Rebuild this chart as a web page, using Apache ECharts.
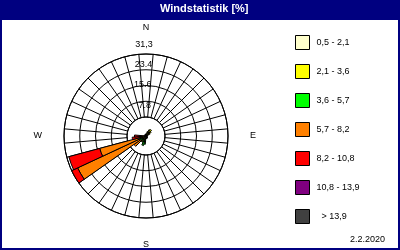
<!DOCTYPE html>
<html><head><meta charset="utf-8">
<script src="https://cdn.jsdelivr.net/npm/echarts@6/dist/echarts.min.js"></script>
<style>
html,body{margin:0;padding:0;background:#fff;}
#c{position:absolute;left:0;top:0;width:400px;height:250px;}
#b{position:absolute;left:0;top:0;width:400px;height:250px;box-sizing:border-box;border:2px solid #000080;pointer-events:none;}
</style></head><body>
<div id="c"></div><div id="b"></div>
<script>
// Directions (compass degrees, 10° sectors)
const directions = Array.from({length:36},(_,i)=>String(i*10));
const compassLabels = {0:'N',9:'E',18:'S',27:'W'};
const ringLabels = ['7.8','15.6','23.4','31,3'];
const radiusMax = 31.3;
const seriesNames = ['0,5 - 2,1','2,1 - 3,6','3,6 - 5,7','5,7 - 8,2','8,2 - 10,8','10,8 - 13,9','> 13,9'];
const seriesColors = ['#FFFFCC','#FFFF00','#00FF00','#FF8000','#FF0000','#800080','#404040'];
// values per direction (index = direction/10), percent
const s1 = [0.8,0.8,1.0,1.2,1.2,1.0,0.8,0.6,0.5,0.5,0.5,0.5,0.6,0.6,0.8,0.8,1.0,1.0,1.0,1.2,1.2,1.2,1.0,1.0,1.2,1.2,1.0,1.0,0.8,0.6,0.6,0.5,0.5,0.5,0.6,0.8];
const s2 = [0,0,0.8,1.5,1.8,1.4,0.8,0,0,0,0,0,0,0,0,0,0,0,0,0.5,0.6,0.5,0.6,0.8,0.8,0.8,0.6,0.4,0,0,0,0,0,0,0,0];
const s3 = [0,0,0,0,0,0,0,0,0,0,0,0,0,0,0,0,0,0,0,1.5,2.0,1.0,0.6,0.8,1.0,0.8,0.3,0,0,0,0,0,0,0,0,0];
const s4 = [0,0,0,0,0,0,0,0,0,0,0,0,0,0,0,0,0,0,0,0,0,0,0.5,3.0,25.8,15.5,0.8,0,0,0,0,0,0,0,0,0];
const s5 = [0,0,0,0,0,0,0,0,0,0,0,0,0,0,0,0,0,0,0,0,0,0,0,0,2.5,12.2,2.6,3.0,0,0,0,0,0,0,0,0];
const s6 = new Array(36).fill(0);
const s7 = new Array(36).fill(0);
const seriesValues = [s1,s2,s3,s4,s5,s6,s7];

const chart = echarts.init(document.getElementById('c'), null, {renderer:'canvas'});
const FONT = 'Liberation Sans';
const ringRich = {
  r0:{fontSize:9,fontFamily:FONT,color:'#000',padding:[12,8,0,0]},
  r1:{fontSize:9,fontFamily:FONT,color:'#000',padding:[0,6,0,0]},
  r2:{fontSize:9,fontFamily:FONT,color:'#000',padding:[0,4,8,0]},
  r3:{fontSize:9,fontFamily:FONT,color:'#000',padding:[0,2,16,0]}
};
const option = {
  animation:false,
  graphic:[{type:'rect',shape:{x:0,y:0,width:400,height:20},style:{fill:'#000080'},z:-1}],
  title:[
    {text:'Windstatistik [%]',left:160,top:3,padding:0,textStyle:{color:'#fff',fontSize:11,fontWeight:'bold',fontFamily:FONT}},
    {text:'2.2.2020',right:15,bottom:6,padding:0,textStyle:{color:'#000',fontSize:9,fontWeight:'normal',fontFamily:FONT}}
  ],
  legend:{
    orient:'vertical',left:295,top:35,padding:0,itemWidth:14,itemHeight:14,itemGap:14,
    icon:'rect',selectedMode:false,
    itemStyle:{borderColor:'#000',borderWidth:1},
    textStyle:{fontSize:9,fontFamily:FONT,color:'#000',padding:[0,0,0,2]},
    formatter:n=> n.charAt(0)==='>' ? '  '+n : n,
    data:seriesNames
  },
  polar:[
    {center:[146,136],radius:[19,82]},
    {center:[146,136],radius:[0,82]}
  ],
  angleAxis:[
    {polarIndex:0,type:'category',data:directions,startAngle:95,clockwise:true,boundaryGap:true,
     axisLine:{show:true,lineStyle:{color:'#000',width:1}},axisTick:{show:false},
     splitLine:{show:true,lineStyle:{color:'#000',width:1}},
     axisLabel:{show:true,interval:0,margin:22,fontSize:9,fontFamily:FONT,color:'#000',
       formatter:(v,i)=>compassLabels[i]||''}},
    {polarIndex:1,type:'category',data:directions,startAngle:95,clockwise:true,boundaryGap:true,
     axisLine:{show:false},axisTick:{show:false},splitLine:{show:false},axisLabel:{show:false}}
  ],
  radiusAxis:[
    {polarIndex:0,type:'value',min:0,max:radiusMax,interval:radiusMax/4,
     axisLine:{show:false},axisTick:{show:false},
     splitLine:{show:true,lineStyle:{color:'#000',width:1}},
     axisLabel:{show:true,margin:-16,showMinLabel:false,
       formatter:(v)=>{const k=Math.round(v/(radiusMax/4))-1; return k>=0?('{r'+k+'|'+ringLabels[k]+'}'):'';},
       rich:ringRich}},
    {polarIndex:1,type:'value',min:0,max:radiusMax,show:false,
     axisLine:{show:false},axisTick:{show:false},splitLine:{show:false},axisLabel:{show:false}}
  ],
  series: seriesNames.map((name,si)=>({
    type:'bar',name:name,coordinateSystem:'polar',polarIndex:1,stack:'w',
    barCategoryGap:'0%',
    itemStyle:{color:seriesColors[si],borderColor:'#000',borderWidth:1},
    data:seriesValues[si].map(v=>v>0?v:'-'),
    z:5
  }))
};
chart.setOption(option);
</script></body></html>
